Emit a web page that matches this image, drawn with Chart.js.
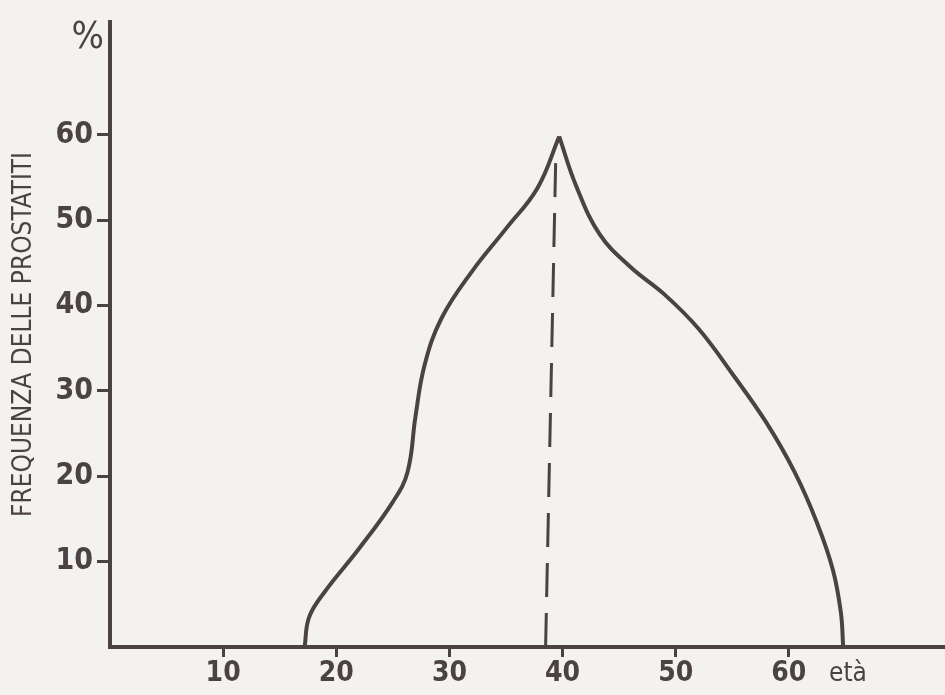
<!DOCTYPE html>
<html>
<head>
<meta charset="utf-8">
<script src="https://cdn.jsdelivr.net/npm/chart.js@4"></script>
<style>
  html, body { margin: 0; padding: 0; background: #f4f2f1; }
  #wrap { width: 945px; height: 695px; }
</style>
</head>
<body>
<div id="wrap"><canvas id="grafico"></canvas></div>
<script>
// curva della frequenza (lato sinistro, fino al picco)
const etaSinistra = [17.2, 17.6, 19.0, 22.0, 25.0, 26.3, 27.0, 27.8, 29.3, 32.0, 35.0, 37.8, 39.7];
const freqSinistra = [0, 3.5, 6.5, 11.5, 17.0, 20.5, 27.0, 33.0, 38.5, 44.0, 49.0, 53.8, 59.8];
// lato destro, dal picco a zero
const etaDestra = [39.7, 41.2, 43.3, 46.0, 49.0, 52.0, 55.0, 58.0, 60.5, 62.5, 63.9, 64.6, 64.8];
const freqDestra = [59.8, 54.0, 48.3, 44.5, 41.3, 37.3, 32.0, 26.3, 20.5, 14.5, 9.0, 4.0, 0];
// linea tratteggiata del picco
const etaPicco = [38.5, 39.4];
const freqPicco = [0, 57.5];

const tickEta = [10, 20, 30, 40, 50, 60];
const tickFreq = [10, 20, 30, 40, 50, 60];

const inchiostro = '#4b4244';
const fontStretto = '"Liberation Sans Narrow", "DejaVu Sans Condensed", sans-serif';

function punti(xs, ys) {
  return xs.map((x, i) => ({ x: x, y: ys[i] }));
}

const testiExtra = {
  id: 'testiExtra',
  afterDraw(chart) {
    const c = chart.ctx;
    const area = chart.chartArea;
    c.save();
    c.fillStyle = inchiostro;
    c.font = '38px ' + fontStretto;
    c.textAlign = 'right';
    c.textBaseline = 'alphabetic';
    c.fillText('%', area.left - 6, 48);
    c.font = '26px ' + fontStretto;
    c.textAlign = 'left';
    c.fillText('età', 829, 681);
    c.restore();
  }
};

const ctx = document.getElementById('grafico').getContext('2d');
new Chart(ctx, {
  type: 'line',
  data: {
    datasets: [
      {
        data: punti(etaSinistra, freqSinistra),
        borderColor: inchiostro,
        borderWidth: 4,
        pointRadius: 0,
        tension: 0.4,
        fill: false
      },
      {
        data: punti(etaDestra, freqDestra),
        borderColor: inchiostro,
        borderWidth: 4,
        pointRadius: 0,
        tension: 0.4,
        fill: false
      },
      {
        data: punti(etaPicco, freqPicco),
        borderColor: inchiostro,
        borderWidth: 3,
        borderDash: [34, 16],
        pointRadius: 0,
        fill: false
      }
    ]
  },
  plugins: [testiExtra],
  options: {
    responsive: true,
    maintainAspectRatio: false,
    animation: false,
    layout: { padding: { top: 10, right: 0, left: 0, bottom: 0 } },
    plugins: {
      legend: { display: false },
      tooltip: { enabled: false }
    },
    scales: {
      x: {
        type: 'linear',
        min: 0,
        max: 73.8,
        afterBuildTicks: (scale) => { scale.ticks = tickEta.map(v => ({ value: v })); },
        afterFit: (scale) => { scale.height = 48; },
        border: { color: inchiostro, width: 4 },
        grid: { drawOnChartArea: false, drawTicks: true, tickLength: 10, color: inchiostro, lineWidth: 3 },
        ticks: {
          color: inchiostro,
          padding: 0,
          maxRotation: 0,
          font: { family: fontStretto, size: 28, weight: 'bold' }
        }
      },
      y: {
        type: 'linear',
        min: 0,
        max: 73.2,
        afterBuildTicks: (scale) => { scale.ticks = tickFreq.map(v => ({ value: v })); },
        afterFit: (scale) => { scale.width = 110; },
        border: { color: inchiostro, width: 4 },
        grid: { drawOnChartArea: false, drawTicks: true, tickLength: 13, color: inchiostro, lineWidth: 3 },
        ticks: {
          color: inchiostro,
          padding: 4,
          font: { family: fontStretto, size: 30, weight: 'bold' }
        },
        title: {
          display: true,
          text: 'FREQUENZA DELLE PROSTATITI',
          color: inchiostro,
          padding: { top: 9, bottom: 0 },
          font: { family: fontStretto, size: 26 }
        }
      }
    }
  }
});
</script>
</body>
</html>
